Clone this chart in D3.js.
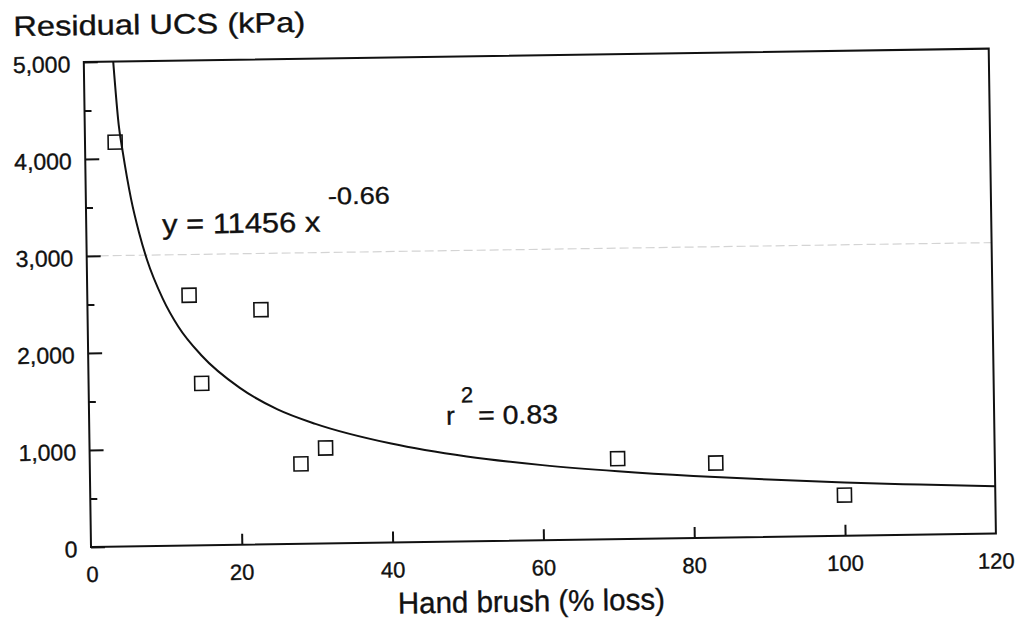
<!DOCTYPE html>
<html>
<head>
<meta charset="utf-8">
<script src="https://cdn.jsdelivr.net/npm/d3@7/dist/d3.min.js"></script>
<style>
  html, body { margin: 0; padding: 0; background: #fff; }
  svg { display: block; }
  text { font-family: "Liberation Sans", Arial, Helvetica, sans-serif; fill: #111; stroke: #111; stroke-width: 0.35px; }
</style>
</head>
<body>
<svg id="chart" width="1020" height="623"></svg>
<script>
// ---- data ----
const xTicks = [0, 20, 40, 60, 80, 100, 120];
const yTicks = [0, 1000, 2000, 3000, 4000, 5000];
const yMinorTicks = [500, 1500, 2500, 3500, 4500];
const gridValues = [3000];

// measured points (Hand brush % loss, Residual UCS kPa)
const pointX = [4, 13.5, 15, 23, 28, 31.3, 70, 83, 100];
const pointY = [4170, 2580, 1670, 2420, 825, 985, 830, 770, 420];

// fitted curve
const curveX = [3.9, 4.5, 5, 6, 7, 8, 10, 12, 15, 20, 25, 30, 40, 50, 60, 70, 80, 90, 100, 110, 120];
const curveY = [5000, 4350, 4060, 3580, 3230, 2950, 2550, 2260, 1960, 1620, 1390, 1235, 1020, 875, 775, 700, 640, 592, 550, 517, 487];

const titleY = "Residual UCS (kPa)";
const titleX = "Hand brush (% loss)";
const eqMain = "y = 11456 x";
const eqExp = "-0.66";
const r2Base = "r";
const r2Exp = "2";
const r2Val = "= 0.83";

// ---- layout ----
const L = 91, R = 996, T = 62, B = 547;
const svg = d3.select("#chart");
const g = svg.append("g").attr("transform", `rotate(-0.85, ${L}, ${B})`);

const x = d3.scaleLinear().domain([0, 120]).range([L, R]);
const y = d3.scaleLinear().domain([0, 5000]).range([B, T]);

// faint scan gridline
g.selectAll("line.grid").data(gridValues).enter().append("line")
  .attr("class", "grid")
  .attr("x1", x(0)).attr("x2", x(120))
  .attr("y1", d => y(d)).attr("y2", d => y(d))
  .attr("stroke", "#d4d4d4").attr("stroke-width", 1.2)
  .attr("stroke-dasharray", "9,4");

// frame
g.append("rect")
  .attr("x", L).attr("y", T).attr("width", R - L).attr("height", B - T)
  .attr("fill", "none").attr("stroke", "#111").attr("stroke-width", 2);

// y axis (ticks inward)
const yAxis = d3.axisRight(y).tickValues(yTicks).tickSize(14).tickFormat("");
const ya = g.append("g").attr("transform", `translate(${L},0)`).call(yAxis);
ya.select(".domain").remove();
ya.selectAll("line").attr("stroke", "#111").attr("stroke-width", 2);

const yMinor = d3.axisRight(y).tickValues(yMinorTicks).tickSize(7).tickFormat("");
const ym = g.append("g").attr("transform", `translate(${L},0)`).call(yMinor);
ym.select(".domain").remove();
ym.selectAll("line").attr("stroke", "#111").attr("stroke-width", 2);

// y tick labels
g.selectAll("text.ylab").data(yTicks).enter().append("text")
  .attr("class", "ylab")
  .attr("x", L - 13.5).attr("y", d => y(d) + 10)
  .attr("text-anchor", "end")
  .attr("font-size", 23)
  .text(d => d3.format(",")(d));

// x axis (ticks inward)
const xAxis = d3.axisTop(x).tickValues(xTicks.filter(d => d > 0 && d < 120)).tickSize(11).tickFormat("");
const xa = g.append("g").attr("transform", `translate(0,${B})`).call(xAxis);
xa.select(".domain").remove();
xa.selectAll("line").attr("stroke", "#111").attr("stroke-width", 2);

g.selectAll("text.xlab").data(xTicks).enter().append("text")
  .attr("class", "xlab")
  .attr("x", d => x(d) + (d === 0 ? 1 : 0)).attr("y", B + 35)
  .attr("text-anchor", "middle")
  .attr("font-size", 22)
  .text(d => d);

// curve
const line = d3.line().x(d => x(d[0])).y(d => y(d[1])).curve(d3.curveMonotoneX);
g.append("path")
  .datum(curveX.map((v, i) => [v, curveY[i]]))
  .attr("d", line)
  .attr("fill", "none").attr("stroke", "#111").attr("stroke-width", 2);

// points
const S = 14;
g.selectAll("rect.pt").data(pointX.map((v, i) => [v, pointY[i]])).enter().append("rect")
  .attr("class", "pt")
  .attr("x", d => x(d[0]) - S / 2).attr("y", d => y(d[1]) - S / 2)
  .attr("width", S).attr("height", S)
  .attr("fill", "none").attr("stroke", "#111").attr("stroke-width", 1.6);

// titles
g.append("text").attr("x", 21).attr("y", 35)
  .attr("font-size", 28)
  .attr("textLength", 292).attr("lengthAdjust", "spacingAndGlyphs")
  .text(titleY);

g.append("text").attr("x", 397).attr("y", 618)
  .attr("font-size", 30)
  .attr("textLength", 267).attr("lengthAdjust", "spacingAndGlyphs")
  .text(titleX);

// equation
g.append("text").attr("x", 167).attr("y", 235)
  .attr("font-size", 28)
  .attr("textLength", 158).attr("lengthAdjust", "spacingAndGlyphs")
  .text(eqMain);
g.append("text").attr("x", 333).attr("y", 208)
  .attr("font-size", 24)
  .attr("textLength", 62).attr("lengthAdjust", "spacingAndGlyphs")
  .text(eqExp);

// r^2
g.append("text").attr("x", 448).attr("y", 430)
  .attr("font-size", 26).text(r2Base);
g.append("text").attr("x", 463).attr("y", 408)
  .attr("font-size", 22).text(r2Exp);
g.append("text").attr("x", 480).attr("y", 430)
  .attr("font-size", 26)
  .attr("textLength", 80).attr("lengthAdjust", "spacingAndGlyphs")
  .text(r2Val);
</script>
</body>
</html>
